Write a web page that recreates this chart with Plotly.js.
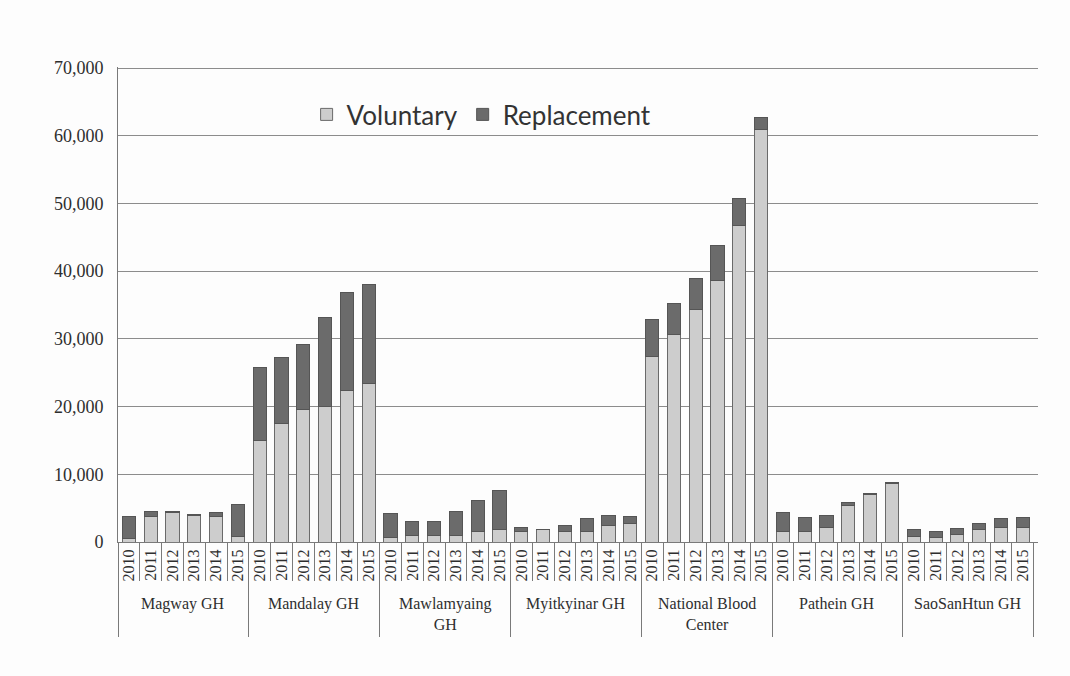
<!DOCTYPE html>
<html>
<head>
<meta charset="utf-8">
<script src="https://cdn.plot.ly/plotly-3.0.1.min.js"></script>
<style>
  html, body { margin: 0; padding: 0; background: #fdfdfd; }
  #chart { width: 1070px; height: 676px; }
</style>
</head>
<body>
<div id="chart"></div>
<script>
// Blood donations by hospital and year, split into voluntary and replacement donors
const hospitals = ['Magway GH', 'Mandalay GH', 'Mawlamyaing<br>GH', 'Myitkyinar GH',
                   'National Blood<br>Center', 'Pathein GH', 'SaoSanHtun GH'];
const years = ['2010', '2011', '2012', '2013', '2014', '2015'];

const voluntary = [
  [500, 3700, 4300, 3900, 3800, 800],
  [15000, 17500, 19500, 20000, 22400, 23400],
  [700, 900, 900, 1000, 1500, 1800],
  [1600, 1800, 1600, 1600, 2400, 2700],
  [27400, 30700, 34300, 38600, 46700, 60900],
  [1600, 1600, 2200, 5400, 7000, 8600],
  [800, 700, 1100, 1800, 2100, 2200]
];
const replacement = [
  [3200, 800, 200, 200, 500, 4800],
  [10800, 9700, 9700, 13200, 14400, 14600],
  [3500, 2200, 2200, 3500, 4700, 5800],
  [600, 100, 900, 1800, 1500, 1000],
  [5500, 4500, 4600, 5200, 4000, 1800],
  [2700, 2000, 1700, 500, 100, 200],
  [1100, 900, 900, 900, 1400, 1400]
];

// flatten into one position per hospital/year pair
const xPos = [], yearText = [], volFlat = [], repFlat = [];
hospitals.forEach((h, g) => {
  years.forEach((yr, i) => {
    xPos.push(g * years.length + i);
    yearText.push(yr);
    volFlat.push(voluntary[g][i]);
    repFlat.push(replacement[g][i]);
  });
});
const nCat = xPos.length;
const xRange = [-0.5, nCat - 0.3];

const yearBounds = [];
for (let i = 0; i <= nCat; i++) yearBounds.push(i - 0.5);
const groupBounds = [];
for (let g = 0; g <= hospitals.length; g++) groupBounds.push(g * years.length - 0.5);

const serif = 'Liberation Serif, Times New Roman, serif';
const ink = '#2e2e2e';
const lineGrey = '#7a7a7a';

// invisible anchor trace so an overlay axis gets drawn
function axisAnchor(axisId) {
  return {
    type: 'scatter', mode: 'markers', x: [0], y: [0], xaxis: axisId, yaxis: 'y',
    marker: { opacity: 0 }, showlegend: false, hoverinfo: 'skip'
  };
}

const traces = [
  {
    type: 'bar', name: 'Voluntary', x: xPos, y: volFlat,
    marker: { color: '#cdcdcd', line: { color: '#6a6a6a', width: 1 } },
    width: 0.6
  },
  {
    type: 'bar', name: 'Replacement', x: xPos, y: repFlat,
    marker: { color: '#6b6b6b', line: { color: '#555555', width: 1 } },
    width: 0.6
  },
  axisAnchor('x2'),
  axisAnchor('x3')
];

const annotations = hospitals.map((h, g) => ({
  xref: 'x', yref: 'paper',
  x: g * years.length + (years.length - 1) / 2,
  y: -0.108, yanchor: 'top', xanchor: 'center',
  text: h, showarrow: false, align: 'center',
  font: { family: serif, size: 16, color: ink }
}));

const layout = {
  width: 1070, height: 676,
  margin: { l: 118, r: 32, t: 67, b: 134 },
  paper_bgcolor: '#fdfdfd', plot_bgcolor: '#fdfdfd',
  barmode: 'stack',
  showlegend: true,
  legend: {
    orientation: 'h', traceorder: 'normal',
    x: 0.205, y: 0.9, xanchor: 'left', yanchor: 'middle',
    font: { family: 'Lato, Open Sans, sans-serif', size: 26, color: '#333' },
    bgcolor: 'rgba(0,0,0,0)', itemwidth: 30
  },
  yaxis: {
    range: [0, 70150], tickvals: [0, 10000, 20000, 30000, 40000, 50000, 60000, 70000],
    tickformat: ',d',
    showgrid: true, gridcolor: '#8c8c8c', gridwidth: 1,
    showline: true, linecolor: lineGrey, linewidth: 1,
    zeroline: false, ticks: '',
    tickfont: { family: serif, size: 18, color: ink },
    ticklabelstandoff: 10
  },
  xaxis: {
    range: xRange, tickmode: 'array', tickvals: xPos, ticktext: yearText,
    tickangle: -90, ticks: '', showgrid: false, zeroline: false,
    showline: true, linecolor: lineGrey, linewidth: 1,
    tickfont: { family: serif, size: 16, color: ink }
  },
  // short ticks framing each year label
  xaxis2: {
    overlaying: 'x', anchor: 'y', side: 'bottom', range: xRange,
    tickmode: 'array', tickvals: yearBounds, ticks: 'outside', ticklen: 38,
    tickcolor: lineGrey, tickwidth: 1, showticklabels: false,
    showgrid: false, zeroline: false, showline: false
  },
  // long ticks separating the hospitals
  xaxis3: {
    overlaying: 'x', anchor: 'y', side: 'bottom', range: xRange,
    tickmode: 'array', tickvals: groupBounds, ticks: 'outside', ticklen: 94,
    tickcolor: lineGrey, tickwidth: 1, showticklabels: false,
    showgrid: false, zeroline: false, showline: false
  },
  annotations: annotations
};

Plotly.newPlot('chart', traces, layout, { displayModeBar: false, staticPlot: true });
</script>
</body>
</html>
